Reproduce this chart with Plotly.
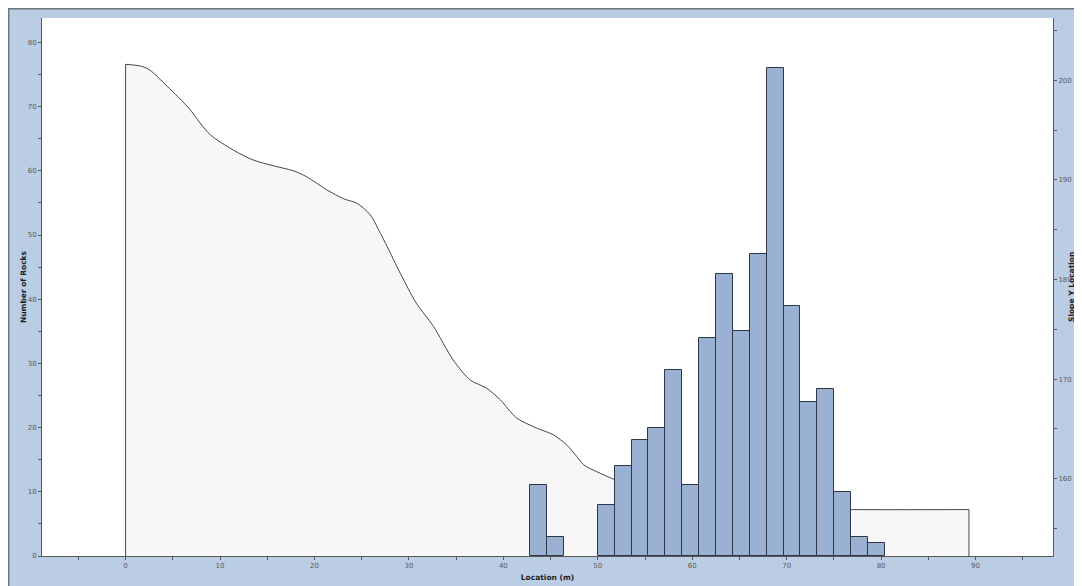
import plotly.graph_objects as go

# --- histogram of rock end locations ---
bin_start = 42.85
bin_width = 1.788
rock_counts = [11, 3, 0, 0, 8, 14, 18, 20, 29, 11, 34, 44, 35, 47, 76, 39, 24, 26, 10, 3, 2]

# --- slope profile (x, y) ---
profile_x = [0, 1.7, 2.6, 4.4, 6.7, 7.9, 9.0, 11.4, 13.5, 15.7, 17.8, 19.2, 21.3, 23.1,
             24.5, 25.9, 27.0, 27.7, 29.1, 30.8, 32.6, 34.7, 36.5, 38.2, 39.7, 41.4,
             43.5, 45.3, 46.7, 47.8, 48.5, 49.9, 51.8, 54, 57, 61, 66, 72, 77, 89.3]
profile_y = [201.6, 201.4, 201.0, 199.4, 197.2, 195.7, 194.5, 193.0, 192.0, 191.4, 190.9,
             190.3, 189.0, 188.1, 187.65, 186.5, 184.6, 183.3, 180.6, 177.6, 175.3, 171.9,
             169.9, 169.1, 167.9, 166.1, 165.1, 164.4, 163.4, 162.2, 161.4, 160.7, 159.9,
             159.0, 158.2, 157.6, 157.2, 157.0, 156.9, 156.9]

x_ticks = [0, 10, 20, 30, 40, 50, 60, 70, 80, 90]
x_range = [-8.85, 98.2]
count_range = [0, 83.8]
slope_range = [152.24, 206.25]

# empty bins are not drawn
bins = [(bin_start + bin_width * (i + 0.5), c) for i, c in enumerate(rock_counts) if c > 0]
bin_centers = [b[0] for b in bins]
bin_counts = [b[1] for b in bins]

# closed polygon down to the bottom of the slope axis
base = slope_range[0]
poly_x = [profile_x[0]] + profile_x + [profile_x[-1]]
poly_y = [base] + profile_y + [base]

line_col = 'rgb(70,70,70)'

fig = go.Figure()
# light fill under the slope
fig.add_trace(go.Scatter(
    x=poly_x, y=poly_y, mode='lines', fill='toself',
    fillcolor='rgb(247,247,247)', line=dict(width=0),
    yaxis='y', hoverinfo='skip', showlegend=False
))
# smooth slope surface
fig.add_trace(go.Scatter(
    x=profile_x, y=profile_y, mode='lines',
    line=dict(color=line_col, width=1, shape='spline', smoothing=0.8),
    yaxis='y', showlegend=False
))
# vertical ends of the slope
fig.add_trace(go.Scatter(
    x=[profile_x[0], profile_x[0], None, profile_x[-1], profile_x[-1]],
    y=[base, profile_y[0], None, profile_y[-1], base],
    mode='lines', line=dict(color=line_col, width=1),
    yaxis='y', hoverinfo='skip', showlegend=False
))
fig.add_trace(go.Bar(
    x=bin_centers, y=bin_counts, width=bin_width,
    marker=dict(color='rgb(154,177,211)', line=dict(color='rgb(45,55,72)', width=1)),
    yaxis='y2', showlegend=False
))

tick_font = dict(family='DejaVu Sans', size=7, color='rgb(90,90,90)')
title_font = dict(family='DejaVu Sans', size=7.5, color='rgb(30,30,30)')
axis_col = 'rgb(90,90,90)'

W, H = 1074, 578
L, R, T, B = 34, 29, 10, 30
pw, ph = W - L - R, H - T - B

fig.update_layout(
    width=W, height=H,
    margin=dict(l=L, r=R, t=T, b=B),
    paper_bgcolor='rgb(186,205,228)',
    plot_bgcolor='white',
    bargap=0,
    shapes=[
        # dark frame along the top and left edges of the panel
        dict(type='path', xref='paper', yref='paper', layer='above',
             path=f'M {(-L + 0.7) / pw},{-B / ph} L {(-L + 0.7) / pw},{(ph + T - 0.7) / ph} '
                  f'L {(pw + R) / pw},{(ph + T - 0.7) / ph}',
             line=dict(color='rgb(110,115,125)', width=1.5)),
    ],
    annotations=[
        dict(text='<b>Number of Rocks</b>', font=title_font, textangle=-90,
             xref='paper', yref='paper', x=(15 - L) / pw, y=0.5,
             xanchor='center', yanchor='middle', showarrow=False),
        dict(text='<b>Slope Y Location</b>', font=title_font, textangle=-90,
             xref='paper', yref='paper', x=(pw + 18) / pw, y=0.5,
             xanchor='center', yanchor='middle', showarrow=False),
    ],
    xaxis=dict(
        range=x_range, tickvals=x_ticks, showgrid=False, zeroline=False,
        showline=True, linecolor=axis_col, linewidth=1, automargin=False,
        ticks='outside', ticklen=3, tickcolor=axis_col, tickfont=tick_font,
        minor=dict(dtick=5, tick0=0, ticks='outside', ticklen=3, tickcolor=axis_col),
        title=dict(text='<b>Location (m)</b>', font=title_font, standoff=5),
    ),
    yaxis=dict(
        range=slope_range, side='right', dtick=10, tick0=0,
        showgrid=False, zeroline=False, automargin=False,
        showline=True, linecolor=axis_col, linewidth=1,
        ticks='outside', ticklen=3, tickcolor=axis_col, tickfont=tick_font,
        minor=dict(dtick=5, tick0=0, ticks='outside', ticklen=3, tickcolor=axis_col),
    ),
    yaxis2=dict(
        range=count_range, side='left', overlaying='y', dtick=10, tick0=0,
        showgrid=False, zeroline=False, automargin=False,
        showline=True, linecolor=axis_col, linewidth=1,
        ticks='outside', ticklen=3, tickcolor=axis_col, tickfont=tick_font,
        minor=dict(dtick=5, tick0=0, ticks='outside', ticklen=3, tickcolor=axis_col),
    ),
)

fig.write_html("out.html")
